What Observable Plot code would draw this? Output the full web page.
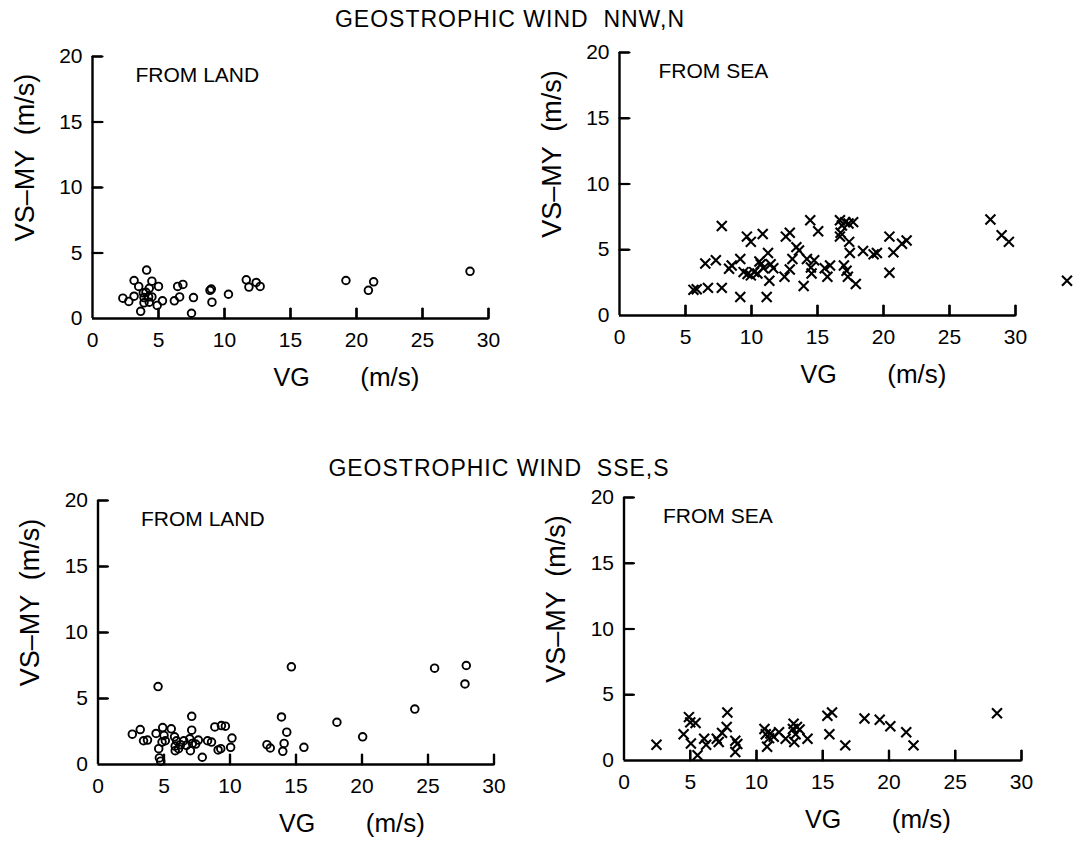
<!DOCTYPE html>
<html><head><meta charset="utf-8">
<script src="https://cdn.jsdelivr.net/npm/d3@7"></script>
<script src="https://cdn.jsdelivr.net/npm/@observablehq/plot@0.6"></script>
<style>
body{margin:0;background:#fff;}
#root{position:relative;width:1085px;height:841px;font-family:"Liberation Sans",Arial,sans-serif;color:#000;overflow:hidden;}
.title{position:absolute;font-size:23px;line-height:23px;white-space:pre;text-align:center;letter-spacing:1px;}
svg text{white-space:pre;}
</style></head><body><div id="root"></div>
<script>
const xTicks = [0, 5, 10, 15, 20, 25, 30];
const yTicks = [0, 5, 10, 15, 20];
const titleNorth = "GEOSTROPHIC WIND  NNW,N";
const titleSouth = "GEOSTROPHIC WIND  SSE,S";
const labelLand = "FROM LAND";
const labelSea = "FROM SEA";
const xLabelVar = "VG";
const xLabelUnit = "(m/s)";
const yLabel = "VS\u2013MY  (m/s)";

// Geostrophic wind NNW,N — from land
const nnwLandVG = [2.3, 2.75, 3.15, 3.15, 3.5, 3.65, 3.85, 4.05, 3.9, 4.25, 3.9, 4.3, 4.1, 4.3, 4.5, 4.5, 5.0, 4.9, 5.3, 6.2, 6.45, 6.6, 6.85, 7.5, 7.65, 8.9, 9.0, 9.05, 10.3, 11.65, 11.85, 12.4, 12.7, 19.2, 20.9, 21.3, 28.6];
const nnwLandVS = [1.55, 1.3, 1.7, 2.9, 2.45, 0.55, 1.95, 2.0, 1.6, 1.65, 1.2, 1.25, 3.7, 2.3, 2.85, 1.65, 2.45, 1.0, 1.35, 1.35, 2.45, 1.65, 2.6, 0.4, 1.6, 2.15, 2.25, 1.25, 1.85, 2.95, 2.4, 2.75, 2.45, 2.9, 2.15, 2.8, 3.6];

// Geostrophic wind NNW,N — from sea
const nnwSeaVG = [5.6, 5.85, 6.5, 6.7, 7.3, 7.75, 7.75, 8.3, 8.5, 9.15, 9.15, 9.4, 9.65, 9.95, 9.7, 9.95, 10.2, 10.45, 10.6, 10.7, 10.85, 10.9, 11.15, 11.25, 11.35, 11.45, 11.65, 12.5, 12.6, 12.9, 12.9, 13.1, 13.4, 13.6, 13.95, 14.2, 14.45, 14.5, 14.55, 14.75, 15.05, 15.55, 15.75, 15.95, 16.7, 16.85, 16.75, 16.7, 17.1, 17.35, 17.7, 17.0, 17.2, 17.3, 17.4, 17.45, 17.9, 18.45, 19.25, 19.5, 20.45, 20.45, 20.75, 21.4, 21.75, 28.1, 28.95, 29.5, 33.9];
const nnwSeaVS = [1.95, 2.0, 3.95, 2.1, 4.2, 6.8, 2.1, 3.55, 3.8, 4.3, 1.4, 3.3, 6.0, 5.6, 3.15, 3.05, 3.3, 3.2, 4.1, 3.9, 6.2, 3.6, 1.4, 4.75, 2.65, 3.9, 3.6, 2.95, 6.0, 6.3, 3.5, 4.3, 5.2, 4.95, 2.25, 4.3, 7.25, 3.65, 3.2, 4.2, 6.4, 3.6, 2.95, 3.8, 7.25, 6.85, 6.3, 6.0, 7.1, 7.0, 7.1, 3.8, 3.4, 2.95, 5.6, 4.75, 2.4, 4.9, 4.65, 4.75, 6.0, 3.25, 4.8, 5.45, 5.7, 7.3, 6.1, 5.6, 2.65];

// Geostrophic wind SSE,S — from land
const sseLandVG = [2.6, 3.2, 3.45, 3.75, 4.4, 4.55, 4.6, 4.65, 4.75, 4.9, 5.0, 5.1, 4.85, 5.55, 5.8, 5.95, 5.85, 6.1, 5.85, 6.25, 6.5, 6.7, 6.95, 7.0, 7.15, 7.1, 7.1, 7.4, 7.6, 7.9, 8.3, 8.6, 8.85, 9.35, 9.1, 9.65, 9.3, 10.15, 10.05, 12.8, 13.05, 13.9, 14.3, 14.1, 14.0, 14.65, 15.6, 18.1, 20.05, 24.0, 25.5, 27.9, 27.8];
const sseLandVS = [2.3, 2.65, 1.8, 1.85, 2.35, 5.9, 1.2, 0.5, 0.25, 2.8, 2.2, 1.8, 1.7, 2.7, 2.1, 1.8, 1.4, 1.2, 1.05, 1.5, 1.8, 1.45, 1.95, 1.05, 1.6, 3.65, 2.6, 1.55, 1.85, 0.55, 1.8, 1.7, 2.85, 2.95, 1.1, 2.9, 1.2, 2.0, 1.3, 1.5, 1.25, 3.6, 2.45, 1.6, 1.0, 7.4, 1.3, 3.2, 2.1, 4.2, 7.3, 7.5, 6.1];

// Geostrophic wind SSE,S — from sea
const sseSeaVG = [2.45, 4.5, 4.9, 5.0, 5.4, 5.05, 5.55, 6.05, 6.2, 7.0, 7.15, 7.4, 7.75, 7.8, 8.4, 8.55, 8.4, 10.6, 10.7, 10.95, 11.05, 11.3, 10.8, 11.7, 12.2, 12.8, 12.75, 13.05, 13.25, 12.95, 12.85, 13.85, 15.35, 15.7, 15.5, 16.7, 18.15, 19.3, 20.1, 21.3, 21.85, 28.15];
const sseSeaVS = [1.2, 2.0, 3.3, 2.9, 2.85, 1.3, 0.4, 1.65, 1.2, 1.65, 1.4, 2.1, 2.55, 3.65, 1.5, 1.25, 0.65, 2.4, 2.0, 1.7, 2.05, 1.8, 1.05, 2.15, 1.65, 2.8, 2.4, 2.55, 2.35, 2.0, 1.4, 1.65, 3.4, 3.65, 2.0, 1.15, 3.2, 3.1, 2.6, 2.15, 1.15, 3.6];

const root = document.getElementById("root");
const FONT = "'Liberation Sans', Arial, Helvetica, sans-serif";
const TICK_PX = 10;

function addTitle(text, centerX, top) {
  const d = document.createElement("div");
  d.className = "title";
  d.textContent = text;
  d.style.left = (centerX - 300) + "px";
  d.style.width = "600px";
  d.style.top = top + "px";
  root.appendChild(d);
}

function panel(vg, vs, kind, label, box, frame, labelDx) {
  const xDomain = [xTicks[0], xTicks[xTicks.length - 1]];
  const yDomain = [yTicks[0], yTicks[yTicks.length - 1]];
  const frameW = frame.x1 - frame.x0;
  const frameH = frame.y1 - frame.y0;
  const marks = [
    Plot.ruleY([0], {strokeWidth: 2.4}),
    Plot.ruleX([0], {strokeWidth: 2.4}),
    // inward tick marks: full-frame ticks shortened to TICK_PX by pixel insets
    Plot.tickX(xTicks.slice(1), {x: d => d, insetTop: frameH - TICK_PX, strokeWidth: 2.2, stroke: "black"}),
    Plot.tickY(yTicks.slice(1), {y: d => d, insetRight: frameW - TICK_PX, strokeWidth: 2.2, stroke: "black"}),
    // same ticks again as head-less vectors
    Plot.vectorY(xTicks.slice(1), {x: d => d, y: 0, length: TICK_PX, anchor: "start", rotate: 0, r: 0, strokeWidth: 2.2, stroke: "black"}),
    Plot.vectorX(yTicks.slice(1), {y: d => d, x: 0, length: TICK_PX, anchor: "start", rotate: 90, r: 0, strokeWidth: 2.2, stroke: "black"}),
    Plot.axisX(xTicks, {anchor: "bottom", tickSize: 0, tickPadding: 14, fontSize: 21, label: null}),
    Plot.axisY(yTicks, {anchor: "left", tickSize: 0, tickPadding: 10, fontSize: 21, label: null}),
    Plot.text([label], {frameAnchor: "top-left", dx: labelDx, dy: 25, textAnchor: "start", lineAnchor: "bottom", fontSize: 21}),
    Plot.text([xLabelVar], {frameAnchor: "bottom-left", dx: 181, dy: 67, textAnchor: "start", lineAnchor: "bottom", fontSize: 25}),
    Plot.text([xLabelUnit], {frameAnchor: "bottom-left", dx: 327, dy: 67, textAnchor: "end", lineAnchor: "bottom", fontSize: 26, letterSpacing: "5px"}),
    Plot.text([yLabel], {frameAnchor: "left", dx: -59, dy: -30, rotate: -90, textAnchor: "middle", lineAnchor: "bottom", fontSize: 27}),
    kind === "circle"
      ? Plot.dot(vg, {x: vg, y: vs, r: 3.8, stroke: "black", strokeWidth: 1.9, fill: "none"})
      : Plot.dot(vg, {x: vg, y: vs, r: 4.6, symbol: "times", stroke: "black", strokeWidth: 2.1})
  ];
  const p = Plot.plot({
    width: box.w, height: box.h,
    marginLeft: frame.x0 - box.x, marginRight: box.x + box.w - frame.x1,
    marginTop: frame.y0 - box.y, marginBottom: box.y + box.h - frame.y1,
    x: {domain: xDomain, axis: null},
    y: {domain: yDomain, axis: null},
    style: {fontFamily: FONT, fontSize: "21px", color: "black", background: "transparent", overflow: "visible"},
    marks
  });
  p.style.position = "absolute";
  p.style.left = box.x + "px";
  p.style.top = box.y + "px";
  root.appendChild(p);
}

addTitle(titleNorth, 510, 8);
addTitle(titleSouth, 499, 457);

panel(nnwLandVG, nnwLandVS, "circle", labelLand, {x: 0, y: 30, w: 545, h: 390}, {x0: 92, x1: 488, y0: 56, y1: 318}, 43);
panel(nnwSeaVG, nnwSeaVS, "times", labelSea, {x: 545, y: 30, w: 540, h: 390}, {x0: 619, x1: 1015, y0: 52, y1: 315}, 39);
panel(sseLandVG, sseLandVS, "circle", labelLand, {x: 0, y: 480, w: 545, h: 361}, {x0: 97.5, x1: 493.5, y0: 500, y1: 764}, 43);
panel(sseSeaVG, sseSeaVS, "times", labelSea, {x: 545, y: 480, w: 540, h: 361}, {x0: 623.5, x1: 1021, y0: 497, y1: 760}, 39);
</script>
</body></html>
